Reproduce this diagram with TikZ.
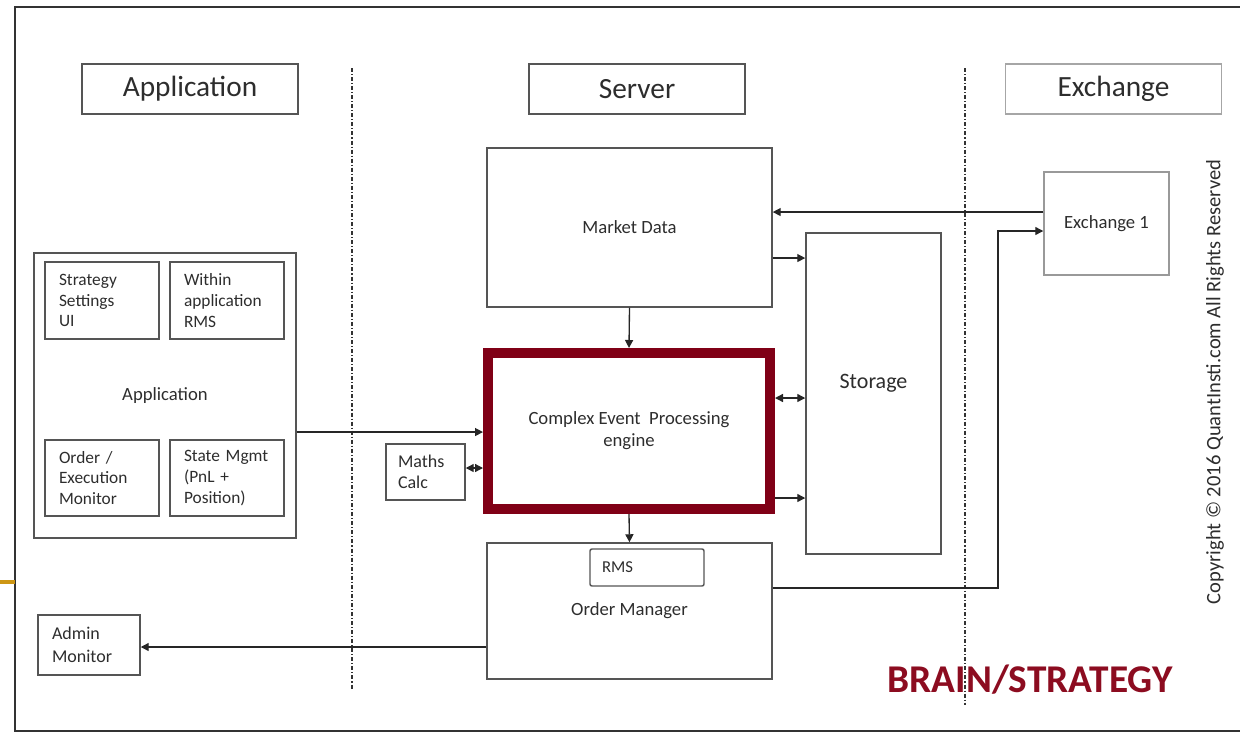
\documentclass[tikz,border=0pt]{standalone}
\usepackage{fontspec}
\setmainfont{Carlito}
\usetikzlibrary{arrows.meta}

\definecolor{cepred}{RGB}{128,0,22}
\definecolor{brainred}{RGB}{140,12,32}
\definecolor{boxgrey}{RGB}{85,85,85}
\definecolor{txtgrey}{RGB}{45,45,45}
\definecolor{gold}{RGB}{205,150,20}

\tikzset{every picture/.style={line width=0.75pt}}
\tikzset{
  blk/.style={draw=boxgrey, line width=1.1pt, rectangle, inner sep=0pt, text=txtgrey, font=\fontsize{14}{16.5}\selectfont},
  hdr/.style={blk, minimum width=162pt, minimum height=37.5pt, font=\fontsize{22}{26}\selectfont},
  smallbox/.style={blk, minimum height=57.75pt, text width=64.5pt, inner xsep=10.5pt, align=left, font=\fontsize{13}{15.5}\selectfont},
  flow/.style={draw=black!85, line width=1pt, -{Triangle[length=6pt,width=6pt]}},
  twoway/.style={draw=black!85, line width=1pt, {Triangle[length=6pt,width=6pt]}-{Triangle[length=6pt,width=6pt]}},
  divider/.style={draw=black!80, line width=1pt, dash pattern=on 3pt off 1.5pt on 0.8pt off 1.5pt},
}

\begin{document}
\begin{tikzpicture}[x=0.75pt,y=0.75pt,yscale=-1,xscale=1]
\useasboundingbox (0,0) rectangle (1240,733);

%Frame
\draw [black!80, line width=1.5pt] (1240,7) -- (15,7) -- (15,731) -- (1240,731) ;
\draw [gold, line width=2.5pt] (0,582) -- (15,582) ;

%Dividers
\draw [divider] (352,68) -- (352,690) ;
\draw [divider] (965,68) -- (965,705) ;

% Header Nodes
\node [hdr] (hApp) at (190,89) {Application};
\node [hdr] (hSrv) at (637,89) {Server};
\node [hdr, draw=black!35] (hExc) at (1113.5,89) {Exchange};

%Shape: Application block
\node [blk, minimum width=196.5pt, minimum height=213.75pt] (app) at (165,395.5) {Application};
\node [smallbox] (sSet) at (102,300.5) {Strategy\\Settings\\UI};
\node [smallbox] (wRms) at (227,300.5) {Within\\application\\RMS};
\node [smallbox, minimum height=57pt] (oMon) at (102,478) {Order /\\Execution\\Monitor};
\node [smallbox, minimum height=57pt] (sMgmt) at (227,478) {State Mgmt\\(PnL +\\Position)};

%Shape: Server blocks
\node [blk, minimum width=213.75pt, minimum height=119.25pt] (mkt) at (629.5,227.5) {Market Data};
\node [blk, draw=cepred, line width=7.5pt, minimum width=211.5pt, minimum height=117pt, align=center] (cep) at (629,431) {Complex Event~ Processing\\engine};
\node [blk, minimum width=101.25pt, minimum height=240.75pt, font=\fontsize{16.5}{20}\selectfont] (store) at (873.5,393.5) {\raisebox{18pt}{Storage}};
\node [blk, minimum width=213.75pt, minimum height=102pt] (om) at (629.5,611) {Order Manager};
\node [blk, minimum height=27.75pt, text width=67.5pt, inner xsep=9pt, align=left, rounded corners=1.5pt, font=\fontsize{12.5}{15}\selectfont] (rms) at (647,567.5) {RMS};
\node [blk, minimum height=42pt, text width=41.25pt, inner xsep=9pt, align=left, font=\fontsize{13.5}{16}\selectfont] (maths) at (425.5,472) {Maths\\Calc};
\node [blk, minimum height=45pt, text width=55.5pt, inner xsep=10.5pt, align=left, font=\fontsize{13.5}{17}\selectfont] (adm) at (89,645) {Admin\\Monitor};

%Shape: Exchange block
\node [blk, draw=black!40, minimum width=93.75pt, minimum height=77.25pt] (exc1) at (1106.5,223.5) {Exchange 1};
\coordinate (bend) at (998,231);

%Connectors
\coordinate (excOut) at ([yshift=-8.6pt]exc1.west);
\draw [flow] (excOut) -- (excOut -| mkt.east) ;
\coordinate (mktOut) at ([yshift=22.9pt]mkt.east);
\draw [flow] (mktOut) -- (mktOut -| store.west) ;
\coordinate (cepTop) at ([yshift=-24.75pt]cep.east);
\draw [twoway] (cepTop) -- (cepTop -| store.west) ;
\coordinate (cepLow) at ([yshift=50.25pt]cep.east);
\draw [flow] (cepLow) -- (cepLow -| store.west) ;
\draw [flow] (mkt.south) -- (cep.north) ;
\draw [flow] (cep.south) -- (om.north) ;
\coordinate (appOut) at ([yshift=27.4pt]app.east);
\draw [flow] (appOut) -- (appOut -| cep.west) ;
\coordinate (mathsOut) at ([yshift=-3pt]maths.east);
\draw [twoway] (mathsOut) -- (mathsOut -| cep.west) ;
\coordinate (omExc) at ([yshift=-17.25pt]om.east);
\draw [flow] (omExc) -| (bend) -- (bend -| exc1.west) ;
\coordinate (omAdm) at ([yshift=27pt]om.west);
\draw [flow] (omAdm) -- (omAdm -| adm.east) ;

% Text Node
\node [rotate=90, text=txtgrey, font=\fontsize{15.4}{18}\selectfont] (copy) at (1215,382) {Copyright © 2016 QuantInsti.com All Rights Reserved};
% Text Node
\node [text=brainred, font=\fontsize{29.5}{34}\selectfont\bfseries] (brain) at (1030,680) {BRAIN/STRATEGY};

\end{tikzpicture}
\end{document}
